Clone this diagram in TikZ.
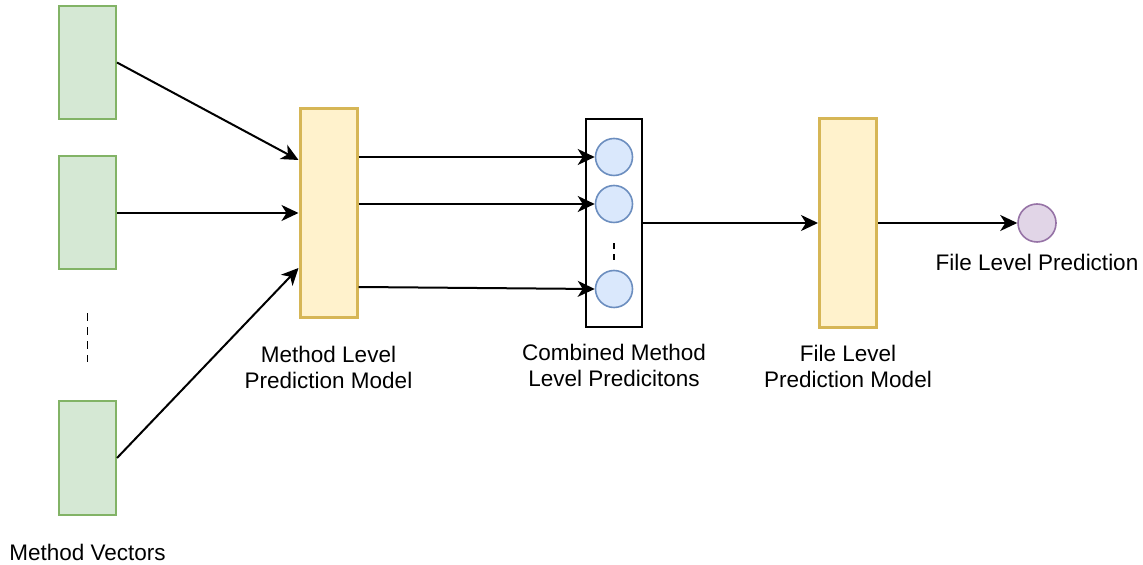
\documentclass[tikz,border=0pt]{standalone}
\usepackage{fontspec}
\setmainfont{Liberation Sans}
\usetikzlibrary{arrows.meta,positioning}

\definecolor{vecfill}{HTML}{D5E8D4}
\definecolor{vecline}{HTML}{82B366}
\definecolor{modelfill}{HTML}{FFF2CC}
\definecolor{modelline}{HTML}{D6B656}
\definecolor{predfill}{HTML}{DAE8FC}
\definecolor{predline}{HTML}{6C8EBF}
\definecolor{outfill}{HTML}{E1D5E7}
\definecolor{outline}{HTML}{9673A6}

\begin{document}
\begin{tikzpicture}[x=0.5pt,y=-0.5pt,
		vec/.style={draw=vecline,fill=vecfill,line width=1pt,minimum width=28.5pt,minimum height=56.5pt,inner sep=0pt},
		model/.style={draw=modelline,fill=modelfill,line width=1.5pt,minimum width=28.5pt,minimum height=104.5pt,inner sep=0pt},
		pred/.style={circle,draw=predline,fill=predfill,line width=0.8pt,minimum size=18.5pt,inner sep=0pt},
		lbl/.style={align=center,font=\fontsize{11.25}{13}\selectfont,inner sep=0pt},
		link/.style={-{Stealth[length=8.5pt,width=8pt,inset=2.5pt]},line width=1pt}]
			\useasboundingbox (0,0) rectangle (1143,565);
%			method vectors
			\node[vec] (vec1) at (87.5,62.5) {};
			\node[vec] (vec2) at (87.5,213) {};
			\node[vec] (vec3) at (87.5,458) {};
			\draw[line width=0.9pt,dash pattern=on 4pt off 3pt] ([yshift=-21.5pt]vec2.south) -- ([yshift=19pt]vec3.north);
			\node[lbl] (veclbl) at ([yshift=-18.5pt]vec3.south) {Method Vectors};
%			method level model
			\node[model] (mlm) at (328.5,213) {};
			\node[lbl] (mlmlbl) at ([yshift=-24pt]mlm.south) {Method Level\\Prediction Model};
			\draw[link] (vec1.east) -- ([yshift=26.5pt]mlm.west);
			\draw[link] (vec2.east) -- (mlm.west);
			\draw[link] (vec3.east) -- ([yshift=-27.5pt]mlm.west);
%			combined predictions
			\node[draw,line width=0.8pt,minimum width=28pt,minimum height=104pt,inner sep=0pt] (comb) at (614,223) {};
			\node[pred] (p1) at (614,157) {};
			\node[pred] (p2) at (614,204) {};
			\node[pred] (p3) at (614,289) {};
			\draw[line width=0.8pt,dash pattern=on 3pt off 2.5pt] ([yshift=-10pt]p2.south) -- ([yshift=5pt]p3.north);
			\node[lbl] (comblbl) at ([yshift=-19pt]comb.south) {Combined Method\\Level Predicitons};
			\draw[link] (mlm.east |- p1.west) -- (p1.west);
			\draw[link] (mlm.east |- p2.west) -- (p2.west);
			\draw[link] ([yshift=-37pt]mlm.east) -- (p3.west);
%			file level model
			\node[model] (flm) at (848,223) {};
			\node[lbl] (flmlbl) at ([yshift=-18.5pt]flm.south) {File Level\\Prediction Model};
			\draw[link] (comb.east) -- (flm.west);
			\node[circle,draw=outline,fill=outfill,line width=0.8pt,minimum size=19pt,inner sep=0pt] (out) at (1037,223) {};
			\node[lbl] (outlbl) at ([yshift=-10pt]out.south) {File Level Prediction};
			\draw[link] (flm.east) -- (out.west);
		\end{tikzpicture}
\end{document}
